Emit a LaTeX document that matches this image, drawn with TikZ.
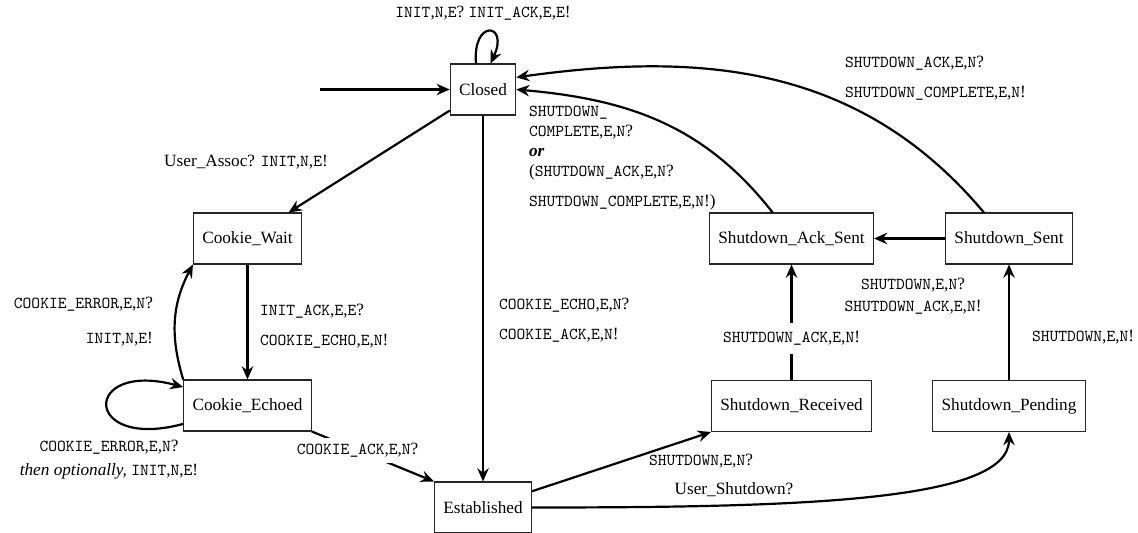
\documentclass[tikz,border=0pt]{standalone}
\usepackage{fontspec}
\setmainfont{Liberation Serif}
\usepackage{tikz}
\usetikzlibrary{arrows.meta, positioning}
\newcommand{\pkt}[1]{{\ttfamily\fontsize{9.5}{10}\selectfont #1}}
\newcommand{\chunkmsg}[4]{\pkt{#1},\pkt{#2},\pkt{#3}#4}

\begin{document}
\begin{tikzpicture}[x=0.02cm, y=0.02cm,
	font=\fontsize{9.8}{12}\selectfont,
	state/.style={draw=black!85, line width=0.6pt, minimum height=1.02cm, inner xsep=5pt},
	trans/.style={-{Stealth[length=7.5pt,width=6.5pt,inset=2.5pt]}, line width=1.25pt},
	lbl/.style={inner sep=1pt},
	gap/.style={fill=white, inner xsep=2pt, inner ysep=3pt}]
\useasboundingbox (0,0) rectangle (1138,533);
% states
\node[state] (closed) at (483,443.5) {Closed};
\node[state] (cwait) at (247.5,294.5) {Cookie\_Wait};
\node[state] (cecho) at (247.5,127.5) {Cookie\_Echoed};
\node[state] (estab) at (483,25.5) {Established};
\node[state] (sacksent) at (791.5,294.5) {Shutdown\_Ack\_Sent};
\node[state] (ssent) at (1009,294.5) {Shutdown\_Sent};
\node[state] (srecv) at (791.5,127) {Shutdown\_Received};
\node[state] (spend) at (1009,127) {Shutdown\_Pending};
\coordinate (init) at (320,443.5);
% association setup
\draw[trans] (init) -- (closed);
\draw[trans] (closed.105) to[out=95,in=65,distance=0.9cm] (closed.74);
\node[lbl] (lloop) at (483,520) {\chunkmsg{INIT}{N}{E}{?} \chunkmsg{INIT\_ACK}{E}{E}{!}};
\draw[trans] (closed) -- (cwait);
\node[lbl] (lassoc) at (246,371) {User\_Assoc? \chunkmsg{INIT}{N}{E}{!}};
\draw[trans] (cwait) -- (cecho);
\node[lbl, anchor=west, align=left] (lwait) at (258,207)
	{\chunkmsg{INIT\_ACK}{E}{E}{?}\\[5pt]\chunkmsg{COOKIE\_ECHO}{E}{N}{!}};
\draw[trans] (cecho.north west) to[out=107,in=242] (cwait.south west);
\node[lbl, anchor=east, align=right] (lerr) at (155,211)
	{\chunkmsg{COOKIE\_ERROR}{E}{N}{?}\\[7.8pt]\chunkmsg{INIT}{N}{E}{!}};
\draw[trans] (cecho.196) to[out=195,in=165,distance=2.1cm] (cecho.164);
\node[lbl, align=center] (lretry) at (109,73)
	{\chunkmsg{COOKIE\_ERROR}{E}{N}{?}\\[1.6pt]\emph{then optionally,} \chunkmsg{INIT}{N}{E}{!}};
\draw[trans] (cecho.south east) -- node[gap, pos=0.375] {\chunkmsg{COOKIE\_ACK}{E}{N}{?}} (estab.north west);
\draw[trans] (closed) -- (estab);
\node[lbl, anchor=west, align=left] (lecho) at (497,213)
	{\chunkmsg{COOKIE\_ECHO}{E}{N}{?}\\[5pt]\chunkmsg{COOKIE\_ACK}{E}{N}{!}};
% shutdown
\draw[trans] (estab) -- (srecv.south west);
\node[lbl] (lsd) at (701,72) {\chunkmsg{SHUTDOWN}{E}{N}{?}};
\draw[trans] (estab.east) to[out=0,in=270,out distance=5.3cm,in distance=1.4cm] (spend.south);
\node[lbl] (luser) at (734,43) {User\_Shutdown?};
\draw[trans] (srecv) -- node[gap, inner ysep=5pt, pos=0.36] {\chunkmsg{SHUTDOWN\_ACK}{E}{N}{!}} (sacksent);
\draw[trans] (spend) -- (ssent);
\node[lbl, anchor=west] (lpend) at (1030,196) {\chunkmsg{SHUTDOWN}{E}{N}{!}};
\draw[trans] (ssent) -- (sacksent);
\node[lbl, align=center] (lsent) at (913,237)
	{\chunkmsg{SHUTDOWN}{E}{N}{?}\\[0.5pt]\chunkmsg{SHUTDOWN\_ACK}{E}{N}{!}};
\draw[trans] (sacksent.126) to[out=128,in=-5] (closed.east);
\node[lbl, anchor=west, align=left] (lack) at (527,375)
	{\pkt{SHUTDOWN\_}\\[-0.7pt]\chunkmsg{COMPLETE}{E}{N}{?}\\[-0.7pt]\textbf{\textit{or}}\\[-0.7pt]
	(\chunkmsg{SHUTDOWN\_ACK}{E}{N}{?}\\[5pt]\chunkmsg{SHUTDOWN\_COMPLETE}{E}{N}{!})};
\draw[trans] (ssent.134) to[out=130,in=8] (closed.20);
\node[lbl, anchor=west, align=left] (lcomp) at (843,455)
	{\chunkmsg{SHUTDOWN\_ACK}{E}{N}{?}\\[5pt]\chunkmsg{SHUTDOWN\_COMPLETE}{E}{N}{!}};
\end{tikzpicture}
\end{document}
